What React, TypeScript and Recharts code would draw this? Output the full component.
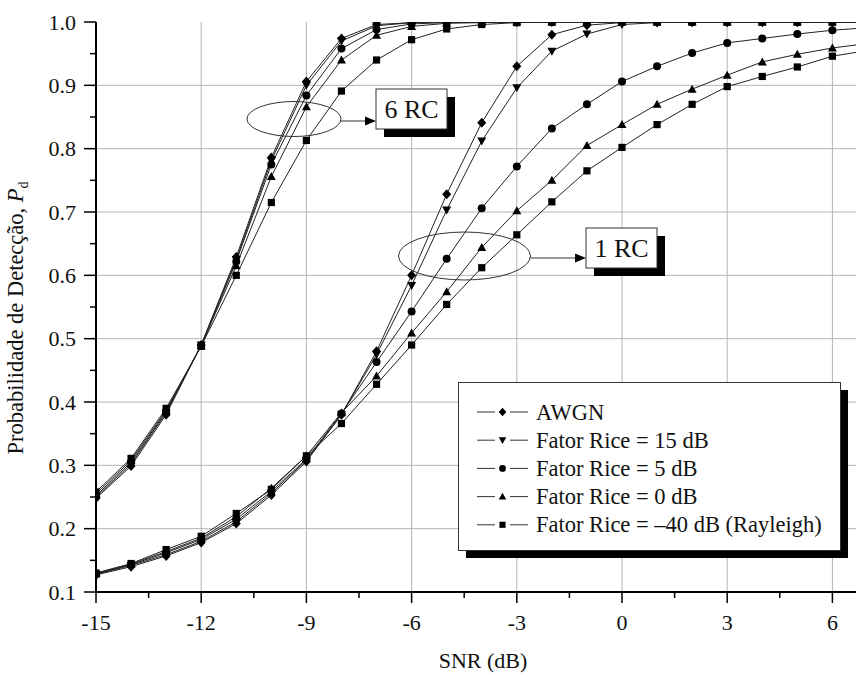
import { LineChart, Line, XAxis, YAxis, ReferenceLine, Legend } from "recharts"

const FONT = '"Liberation Serif", serif'

// SNR (dB) sample points
const snr = [-15, -14, -13, -12, -11, -10, -9, -8, -7, -6, -5, -4, -3, -2, -1, 0, 1, 2, 3, 4, 5, 6, 7]

// 6 RC curves
const awgn6 = [0.248, 0.299, 0.38, 0.49, 0.629, 0.786, 0.906, 0.974, 0.996, 0.999, 1, 1, 1, 1, 1, 1, 1, 1, 1, 1, 1, 1, 1]
const rice15_6 = [0.25, 0.302, 0.383, 0.49, 0.625, 0.781, 0.9, 0.97, 0.994, 0.999, 1, 1, 1, 1, 1, 1, 1, 1, 1, 1, 1, 1, 1]
const rice5_6 = [0.252, 0.305, 0.385, 0.489, 0.622, 0.775, 0.884, 0.958, 0.988, 0.997, 0.999, 1, 1, 1, 1, 1, 1, 1, 1, 1, 1, 1, 1]
const rice0_6 = [0.255, 0.308, 0.387, 0.489, 0.615, 0.756, 0.866, 0.94, 0.979, 0.993, 0.998, 0.999, 1, 1, 1, 1, 1, 1, 1, 1, 1, 1, 1]
const rayleigh6 = [0.258, 0.311, 0.39, 0.488, 0.6, 0.715, 0.813, 0.891, 0.94, 0.972, 0.989, 0.996, 0.999, 1, 1, 1, 1, 1, 1, 1, 1, 1, 1]

// 1 RC curves
const awgn1 = [0.127, 0.14, 0.157, 0.178, 0.208, 0.253, 0.306, 0.38, 0.48, 0.6, 0.728, 0.841, 0.93, 0.98, 0.995, 0.999, 1, 1, 1, 1, 1, 1, 1]
const rice15_1 = [0.128, 0.142, 0.159, 0.18, 0.211, 0.256, 0.308, 0.38, 0.475, 0.584, 0.703, 0.812, 0.896, 0.954, 0.981, 0.996, 0.999, 1, 1, 1, 1, 1, 1]
const rice5_1 = [0.128, 0.143, 0.162, 0.183, 0.215, 0.259, 0.31, 0.382, 0.463, 0.543, 0.626, 0.706, 0.772, 0.832, 0.87, 0.906, 0.93, 0.951, 0.967, 0.974, 0.981, 0.987, 0.991]
const rice0_1 = [0.129, 0.144, 0.164, 0.185, 0.219, 0.264, 0.315, 0.383, 0.441, 0.509, 0.574, 0.644, 0.702, 0.75, 0.805, 0.838, 0.87, 0.894, 0.916, 0.937, 0.949, 0.959, 0.966]
const rayleigh1 = [0.13, 0.145, 0.167, 0.188, 0.224, 0.262, 0.315, 0.366, 0.428, 0.49, 0.554, 0.612, 0.664, 0.716, 0.765, 0.802, 0.838, 0.87, 0.898, 0.914, 0.929, 0.946, 0.955]

const seriesLabels = ["AWGN", "Fator Rice = 15 dB", "Fator Rice = 5 dB", "Fator Rice = 0 dB", "Fator Rice = \u201340 dB (Rayleigh)"]
const shapes = ["diamond", "triDown", "circle", "triUp", "square"]

// ticks
const xMajorTicks = [-15, -12, -9, -6, -3, 0, 3, 6]
const xAllTicks = [-15, -13.5, -12, -10.5, -9, -7.5, -6, -4.5, -3, -1.5, 0, 1.5, 3, 4.5, 6]
const yAllTicks = [0.1, 0.15, 0.2, 0.25, 0.3, 0.35, 0.4, 0.45, 0.5, 0.55, 0.6, 0.65, 0.7, 0.75, 0.8, 0.85, 0.9, 0.95, 1.0]
const yGridTicks = [0.2, 0.3, 0.4, 0.5, 0.6, 0.7, 0.8, 0.9]
const xGridTicks = [-12, -9, -6, -3, 0, 3, 6]

const data = snr.map((s, i) => ({
  snr: s,
  awgn6: awgn6[i],
  rice15_6: rice15_6[i],
  rice5_6: rice5_6[i],
  rice0_6: rice0_6[i],
  rayleigh6: rayleigh6[i],
  awgn1: awgn1[i],
  rice15_1: rice15_1[i],
  rice5_1: rice5_1[i],
  rice0_1: rice0_1[i],
  rayleigh1: rayleigh1[i],
}))

const keys6 = ["awgn6", "rice15_6", "rice5_6", "rice0_6", "rayleigh6"]
const keys1 = ["awgn1", "rice15_1", "rice5_1", "rice0_1", "rayleigh1"]

function Marker({ kind, cx, cy, s = 1 }: { kind: string; cx: number; cy: number; s?: number }) {
  if (cx == null || cy == null) return null
  if (kind === "diamond")
    return <polygon points={`${cx},${cy - 5 * s} ${cx + 4.5 * s},${cy} ${cx},${cy + 5 * s} ${cx - 4.5 * s},${cy}`} fill="#000" />
  if (kind === "triDown")
    return <polygon points={`${cx - 4.5 * s},${cy - 3.5 * s} ${cx + 4.5 * s},${cy - 3.5 * s} ${cx},${cy + 4.5 * s}`} fill="#000" />
  if (kind === "triUp")
    return <polygon points={`${cx - 4.5 * s},${cy + 3.5 * s} ${cx + 4.5 * s},${cy + 3.5 * s} ${cx},${cy - 4.5 * s}`} fill="#000" />
  if (kind === "square") return <rect x={cx - 3.6 * s} y={cy - 3.6 * s} width={7.2 * s} height={7.2 * s} fill="#000" />
  return <circle cx={cx} cy={cy} r={4 * s} fill="#000" />
}

const isMajorY = (v: number) => Math.abs(Math.round(v * 10) - v * 10) < 1e-6

function BottomTick({ x, y, payload }: any) {
  const major = xMajorTicks.includes(payload.value)
  return (
    <g>
      <line x1={x} y1={y} x2={x} y2={y + (major ? 11 : 6)} stroke="#000" strokeWidth={1.5} />
      {major && (
        <text x={x} y={y + 38} textAnchor="middle" fontSize={22} fontFamily={FONT} fill="#111">
          {payload.value}
        </text>
      )}
    </g>
  )
}

function TopTick({ x, y, payload }: any) {
  const major = xMajorTicks.includes(payload.value)
  return <line x1={x} y1={y} x2={x} y2={y + (major ? 11 : 6)} stroke="#000" strokeWidth={1.5} />
}

function LeftTick({ x, y, payload }: any) {
  const major = isMajorY(payload.value)
  return (
    <g>
      <line x1={x} y1={y} x2={x - (major ? 12 : 6)} y2={y} stroke="#000" strokeWidth={1.5} />
      {major && (
        <text x={x - 20} y={y} dy="0.35em" textAnchor="end" fontSize={22} fontFamily={FONT} fill="#111">
          {payload.value.toFixed(1)}
        </text>
      )}
    </g>
  )
}

function RightTick({ x, y, payload }: any) {
  const major = isMajorY(payload.value)
  return <line x1={x} y1={y} x2={x - (major ? 11 : 6)} y2={y} stroke="#000" strokeWidth={1.5} />
}

function LegendBox({ payload }: any) {
  const list = payload || []
  return (
    <svg width={392} height={178} style={{ display: "block" }}>
      <rect x={8} y={8} width={382} height={168} fill="#000" />
      <rect x={0.5} y={0.5} width={382} height={168} fill="#fff" stroke="#333" strokeWidth={1} />
      {keys6.map((key, i) => {
        const p = list.find((e: any) => e.dataKey === key)
        const cy = 30 + i * 28.2
        return (
          <g key={key}>
            <line x1={19} y1={cy} x2={37} y2={cy} stroke="#333" strokeWidth={1} />
            <line x1={52} y1={cy} x2={70} y2={cy} stroke="#333" strokeWidth={1} />
            <Marker kind={shapes[i]} cx={44.5} cy={cy} s={0.85} />
            <text x={78} y={cy + 7.5} fontSize={22.5} fontFamily={FONT} fill="#111">
              {p ? p.value : seriesLabels[i]}
            </text>
          </g>
        )
      })}
    </svg>
  )
}

function Callout({ ex, ey, rx, ry, bx, by, label }: any) {
  const w = 71
  const h = 40
  return (
    <g>
      <ellipse cx={ex} cy={ey} rx={rx} ry={ry} fill="none" stroke="#333" strokeWidth={1} />
      <line x1={ex + rx} y1={ey + 2} x2={bx - 10} y2={ey + 2} stroke="#333" strokeWidth={1} />
      <polygon points={`${bx - 11},${ey - 2.5} ${bx},${ey + 2} ${bx - 11},${ey + 6.5}`} fill="#000" />
      <rect x={bx + 8} y={by + 8} width={w} height={h} fill="#000" />
      <rect x={bx} y={by} width={w} height={h} fill="#fff" stroke="#333" strokeWidth={1} />
      <text x={bx + w / 2} y={by + 29} textAnchor="middle" fontSize={26} fontFamily={FONT} fill="#111">
        {label}
      </text>
    </g>
  )
}

export default function App() {
  return (
    <div style={{ position: "absolute", left: 0, top: 0, width: 856, height: 675, overflow: "hidden", background: "#fff" }}>
      <LineChart width={858} height={675} data={data} margin={{ top: 22, right: 0, bottom: 0, left: 0 }}>
        <XAxis
          dataKey="snr"
          type="number"
          domain={[-15, 6.73]}
          allowDataOverflow
          ticks={xAllTicks}
          interval={0}
          height={83}
          tickSize={0}
          tickMargin={0}
          tickLine={false}
          tick={BottomTick}
          axisLine={{ stroke: "#000", strokeWidth: 2 }}
          label={{
            content: () => (
              <text x={483} y={668} textAnchor="middle" fontSize={22} fontFamily={FONT} fill="#111">
                SNR (dB)
              </text>
            ),
          }}
        />
        <XAxis
          xAxisId="top"
          orientation="top"
          dataKey="snr"
          type="number"
          domain={[-15, 6.73]}
          allowDataOverflow
          ticks={xAllTicks}
          interval={0}
          height={0}
          tickSize={0}
          tickMargin={0}
          tickLine={false}
          tick={TopTick}
          axisLine={{ stroke: "#000", strokeWidth: 2 }}
        />
        <YAxis
          type="number"
          domain={[0.1, 1.0]}
          allowDataOverflow
          ticks={yAllTicks}
          interval={0}
          width={96}
          tickSize={0}
          tickMargin={0}
          tickLine={false}
          tick={LeftTick}
          axisLine={{ stroke: "#000", strokeWidth: 2 }}
          label={{
            content: () => (
              <text
                x={23}
                y={318}
                transform="rotate(-90, 23, 318)"
                textAnchor="middle"
                fontSize={22.5}
                fontFamily={FONT}
                fill="#111"
              >
                Probabilidade de Detecção,{" "}
                <tspan fontStyle="italic">P</tspan>
                <tspan fontSize={14} dy={5}>
                  d
                </tspan>
              </text>
            ),
          }}
        />
        <YAxis
          yAxisId="right"
          orientation="right"
          type="number"
          domain={[0.1, 1.0]}
          allowDataOverflow
          ticks={yAllTicks}
          interval={0}
          width={0}
          tickSize={0}
          tickMargin={0}
          tickLine={false}
          tick={RightTick}
          axisLine={{ stroke: "#000", strokeWidth: 2 }}
        />
        {xGridTicks.map((v) => (
          <ReferenceLine key={`gx${v}`} x={v} stroke="#b4b4b4" strokeWidth={1} />
        ))}
        {yGridTicks.map((v) => (
          <ReferenceLine key={`gy${v}`} y={v} stroke="#b4b4b4" strokeWidth={1} />
        ))}
        {keys6.map((k, i) => (
          <Line
            key={k}
            type="linear"
            dataKey={k}
            name={seriesLabels[i]}
            stroke="#222"
            strokeWidth={1}
            isAnimationActive={false}
            activeDot={false}
            dot={(p: any) => <Marker key={`${k}-${p.index}`} kind={shapes[i]} cx={p.cx} cy={p.cy} />}
          />
        ))}
        {keys1.map((k, i) => (
          <Line
            key={k}
            type="linear"
            dataKey={k}
            name={seriesLabels[i]}
            legendType="none"
            stroke="#222"
            strokeWidth={1}
            isAnimationActive={false}
            activeDot={false}
            dot={(p: any) => <Marker key={`${k}-${p.index}`} kind={shapes[i]} cx={p.cx} cy={p.cy} />}
          />
        ))}
        <Legend
          layout="vertical"
          align="center"
          verticalAlign="middle"
          content={LegendBox}
          wrapperStyle={{ left: 458, top: 382, width: 392, height: 178, margin: 0 }}
        />
      </LineChart>
      <svg width={856} height={675} style={{ position: "absolute", left: 0, top: 0, pointerEvents: "none" }}>
        <Callout ex={294} ey={119} rx={47} ry={17.5} bx={376} by={89} label="6 RC" />
        <Callout ex={464.5} ey={256} rx={66} ry={24} bx={586} by={228} label="1 RC" />
      </svg>
    </div>
  )
}
